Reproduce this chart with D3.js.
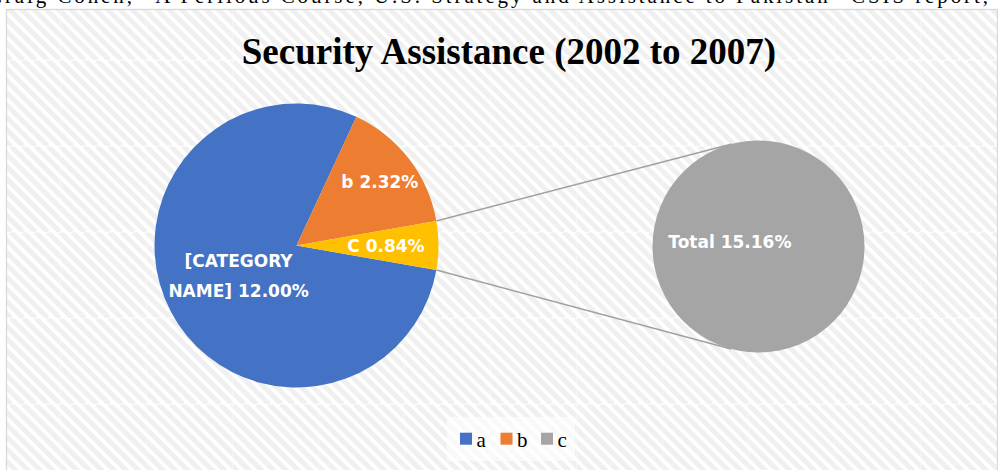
<!DOCTYPE html>
<html>
<head>
<meta charset="utf-8">
<script src="https://cdn.jsdelivr.net/npm/d3@7"></script>
<style>
  body { margin: 0; background: #fff; }
</style>
</head>
<body>
<div id="chart"></div>
<script>
// data
const categories = ["a", "b", "C"];
const sliceNames = [["[CATEGORY", "NAME]"], ["b"], ["C"]];
const values = [12.00, 2.32, 0.84];
const colors = ["#4472C4", "#ED7D31", "#FFC000"];
const legendNames = ["a", "b", "c"];
const legendColors = ["#4472C4", "#ED7D31", "#A5A5A5"];
const totalName = "Total";
const totalColor = "#A5A5A5";
const titleText = "Security Assistance (2002 to 2007)";
const noteText = "Craig Cohen, \u201CA Perilous Course, U.S. Strategy and Assistance to Pakistan\u201D CSIS report,";

// layout
const W = 998, H = 470;
const mainC = { x: 296.5, y: 245.5, r: 142 };
const sideC = { x: 758.5, y: 246.5, r: 106 };
const labelRadius = [0.46, 0.74, 0.63];
const fmt = v => v.toFixed(2) + "%";

const svg = d3.select("#chart").append("svg")
  .attr("width", W)
  .attr("height", H);

// striped chart background
const defs = svg.append("defs");
const tile = 86;
const pat = defs.append("pattern")
  .attr("id", "stripes")
  .attr("patternUnits", "userSpaceOnUse")
  .attr("x", 60).attr("y", 60)
  .attr("width", tile).attr("height", tile);
pat.append("rect").attr("width", tile).attr("height", tile).attr("fill", "#fff");
d3.range(-tile, tile + 1, tile / 7).forEach(x0 => {
  pat.append("line")
    .attr("x1", x0).attr("y1", 0)
    .attr("x2", x0 + tile).attr("y2", tile)
    .attr("stroke", "#f0f0f0")
    .attr("stroke-width", 5);
});
pat.append("path")
  .attr("d", `M0.5,0V${tile}M0,0.5H${tile}`)
  .attr("stroke", "rgba(255,255,255,0.35)")
  .attr("stroke-width", 1);

// cut-off line of document text above the chart
svg.append("text")
  .attr("x", -12)
  .attr("y", 3)
  .attr("textLength", 1000)
  .attr("lengthAdjust", "spacing")
  .style("font-family", "'Liberation Serif', 'Times New Roman', serif")
  .style("font-size", "21px")
  .attr("fill", "#000")
  .text(noteText);

svg.append("rect")
  .attr("x", 6.5).attr("y", 9.5)
  .attr("width", 991).attr("height", 470)
  .attr("fill", "url(#stripes)")
  .attr("stroke", "#d9d9d9")
  .attr("stroke-width", 1.3);

// title
svg.append("text")
  .attr("x", 509)
  .attr("y", 63.5)
  .attr("text-anchor", "middle")
  .style("font-family", "'Liberation Serif', 'Times New Roman', serif")
  .style("font-weight", "bold")
  .style("font-size", "37px")
  .attr("fill", "#000")
  .text(titleText);

// main pie, "other" slice (last one) centred on 3 o'clock
const total = d3.sum(values);
const start = Math.PI / 2 + Math.PI * values[values.length - 1] / total;
const pie = d3.pie().sort(null).value(d => d)
  .startAngle(start).endAngle(start + 2 * Math.PI);
const arcs = pie(values);
const arc = d3.arc().innerRadius(0).outerRadius(mainC.r);

const gMain = svg.append("g").attr("transform", `translate(${mainC.x},${mainC.y})`);
gMain.selectAll("path")
  .data(arcs)
  .enter().append("path")
  .attr("d", arc)
  .attr("fill", (d, i) => colors[i]);

// connector lines: from the "other" slice edges, tangent to the side circle
const other = arcs[arcs.length - 1];
function edgePoint(a) {
  return [mainC.x + mainC.r * Math.sin(a), mainC.y - mainC.r * Math.cos(a)];
}
function tangent(p, side) {
  const dx = p[0] - sideC.x, dy = p[1] - sideC.y;
  const d = Math.hypot(dx, dy);
  const base = Math.atan2(dy, dx);
  const t = base + side * Math.acos(sideC.r / d);
  return [sideC.x + sideC.r * Math.cos(t), sideC.y + sideC.r * Math.sin(t)];
}
const pTop = edgePoint(other.startAngle);
const pBot = edgePoint(other.endAngle);
[[pTop, tangent(pTop, 1)], [pBot, tangent(pBot, -1)]].forEach(seg => {
  svg.append("line")
    .attr("x1", seg[0][0]).attr("y1", seg[0][1])
    .attr("x2", seg[1][0]).attr("y2", seg[1][1])
    .attr("stroke", "#a0a0a0")
    .attr("stroke-width", 1.5);
});

// side circle holding the total
const sideArc = d3.arc().innerRadius(0).outerRadius(sideC.r);
const sideArcs = d3.pie().sort(null)([total]);
const gSide = svg.append("g").attr("transform", `translate(${sideC.x},${sideC.y})`);
gSide.selectAll("path")
  .data(sideArcs)
  .enter().append("path")
  .attr("d", sideArc)
  .attr("fill", totalColor);

const labelFont = "'DejaVu Sans', Verdana, sans-serif";

gSide.append("text")
  .attr("x", -sideC.r * 0.27)
  .attr("y", -sideC.r * 0.04)
  .attr("dy", "0.36em")
  .attr("text-anchor", "middle")
  .style("font-family", labelFont)
  .style("font-weight", "bold")
  .style("font-size", "17px")
  .attr("fill", "#fff")
  .text(totalName + " " + fmt(total));

// slice labels
arcs.forEach((d, i) => {
  const mid = (d.startAngle + d.endAngle) / 2;
  const rr = mainC.r * labelRadius[i];
  const lx = rr * Math.sin(mid), ly = -rr * Math.cos(mid);
  const lines = sliceNames[i].slice();
  lines[lines.length - 1] += " " + fmt(values[i]);
  const step = 30;
  const t = gMain.append("text")
    .attr("text-anchor", "middle")
    .style("font-family", labelFont)
    .style("font-weight", "bold")
    .style("font-size", "17px")
    .attr("fill", "#fff");
  lines.forEach((ln, k) => {
    t.append("tspan")
      .attr("x", lx)
      .attr("y", ly + (k - (lines.length - 1) / 2) * step)
      .attr("dy", "0.36em")
      .text(ln);
  });
});

// legend
const lg = svg.append("g");
lg.append("rect")
  .attr("x", 447).attr("y", 417)
  .attr("width", 128).attr("height", 44)
  .attr("fill", "#fff")
  .attr("opacity", 0.6);
legendNames.forEach((n, i) => {
  const x0 = 460 + i * 40.5;
  lg.append("rect")
    .attr("x", x0).attr("y", 432.7)
    .attr("width", 12).attr("height", 12)
    .attr("fill", legendColors[i]);
  lg.append("text")
    .attr("x", x0 + 16.5)
    .attr("y", 446.5)
    .style("font-family", "'Liberation Serif', 'Times New Roman', serif")
    .style("font-size", "21px")
    .attr("fill", "#000")
    .text(n);
});
</script>
</body>
</html>
